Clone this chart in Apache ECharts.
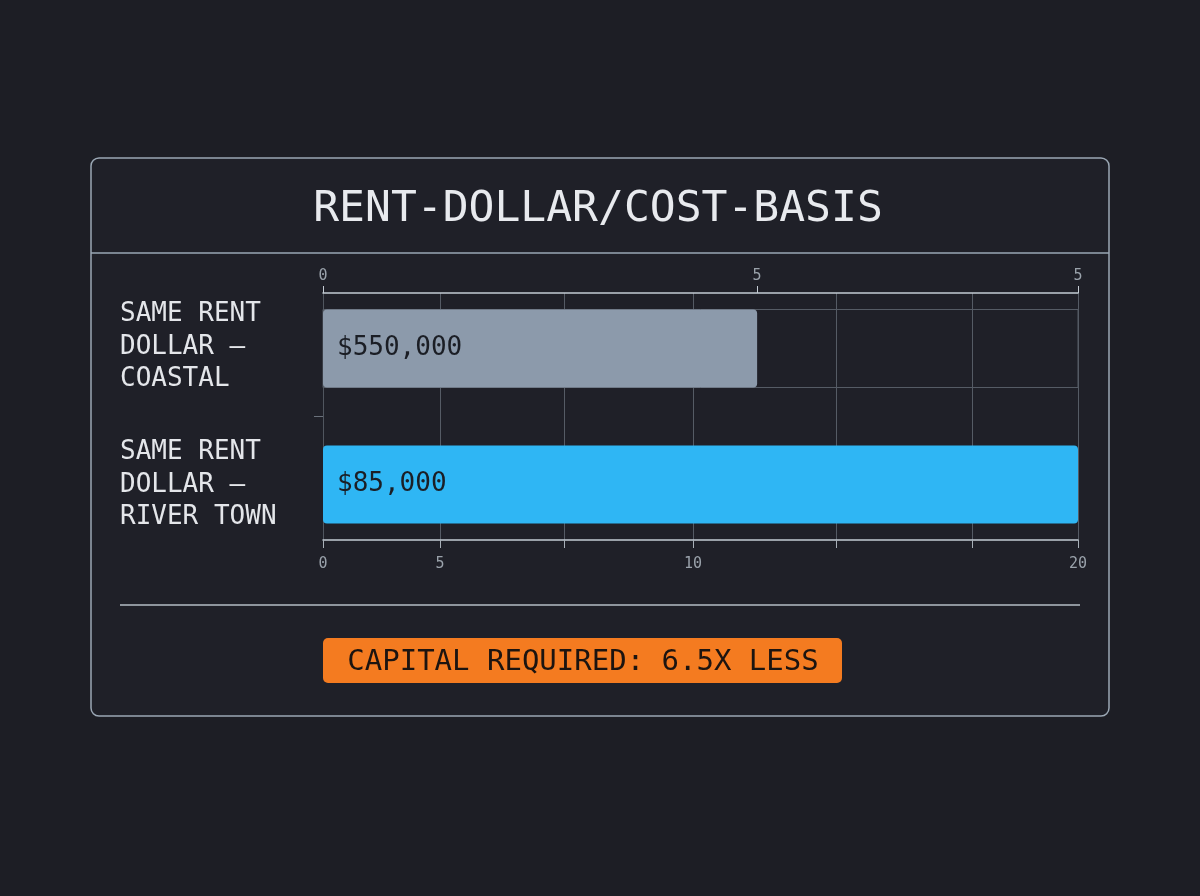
<!DOCTYPE html>
<html>
<head>
<meta charset="utf-8">
<script src="https://cdn.jsdelivr.net/npm/echarts@6/dist/echarts.min.js"></script>
<style>
html,body{margin:0;padding:0;background:#1d1e25;}
#chart{width:1200px;height:896px;}
</style>
</head>
<body>
<div id="chart"></div>
<script>
const titleText = 'RENT-DOLLAR/COST-BASIS';
const categories = ['SAME RENT\nDOLLAR —\nCOASTAL', 'SAME RENT\nDOLLAR —\nRIVER TOWN'];
const costBasis = [550000, 85000];
const barLength = [11.5, 20];
const bottomTickValues = [0, 3.1, 6.4, 9.8, 13.6, 17.2, 20];
const bottomLabelValues = [0, 3.1, 9.8, 20];
const bottomLabelTexts = ['0', '5', '10', '20'];
const topLabelValues = [0, 11.5, 20];
const topLabelTexts = ['0', '5', '5'];
const badgeText = 'CAPITAL REQUIRED: 6.5X LESS';

const MONO = '"DejaVu Sans Mono", "Liberation Mono", monospace';
const fmtMoney = v => '$' + v.toLocaleString('en-US');
const pick = (vals, texts) => v => {
  for (let i = 0; i < vals.length; i++) if (Math.abs(vals[i] - v) < 1e-6) return texts[i];
  return '';
};
const richLines = v => v.split('\n').map(s => '{a|' + s + '}').join('\n');

const chart = echarts.init(document.getElementById('chart'), null, {renderer: 'canvas'});

const seriesColors = ['#8c9aab', '#2fb6f4'];

const option = {
  backgroundColor: '#1d1e25',
  animation: false,
  grid: {left: 323, right: 122, top: 293, bottom: 356, containLabel: false, outerBoundsMode: 'none'},
  xAxis: [
    {
      type: 'value', position: 'bottom', min: 0, max: 20,
      axisLine: {show: true, onZero: false, lineStyle: {color: '#c4ccd4', width: 1.5}},
      axisTick: {show: true, customValues: bottomTickValues, length: 8, lineStyle: {color: '#a8b0b8', width: 1}},
      axisLabel: {customValues: bottomLabelValues, formatter: pick(bottomLabelValues, bottomLabelTexts),
        color: '#9aa2ab', fontSize: 15, fontFamily: MONO, margin: 17},
      splitLine: {show: true, lineStyle: {color: '#555b65', width: 1}}
    },
    {
      type: 'value', position: 'top', min: 0, max: 20,
      axisLine: {show: true, onZero: false, lineStyle: {color: '#c4ccd4', width: 1.5}},
      axisTick: {show: true, customValues: topLabelValues, length: 7, lineStyle: {color: '#c4ccd4', width: 1}},
      axisLabel: {customValues: topLabelValues, formatter: pick(topLabelValues, topLabelTexts),
        color: '#9aa2ab', fontSize: 15, fontFamily: MONO, margin: 9},
      splitLine: {show: false}
    }
  ],
  yAxis: [
    {
      type: 'category', inverse: true,
      data: categories,
      axisLine: {show: true, onZero: false, lineStyle: {color: '#50565f', width: 1}},
      axisTick: {show: false},
      axisLabel: {
        interval: 0, align: 'left', margin: 203, color: '#e4e6ea', fontFamily: MONO,
        formatter: (v, i) => i === 0 ? richLines(v) + '\n{s| }' : '{t| }\n' + richLines(v),
        rich: {
          a: {fontSize: 26, lineHeight: 32.5, fontFamily: MONO, color: '#e4e6ea', align: 'left'},
          s: {fontSize: 1, lineHeight: 16},
          t: {fontSize: 1, lineHeight: 13}
        }
      },
      splitLine: {show: false}
    },
    {
      type: 'value', position: 'left', min: 0, max: 2, inverse: true,
      axisLine: {show: false, onZero: false},
      axisTick: {show: true, customValues: [1], length: 9, lineStyle: {color: '#6a717b'}},
      axisLabel: {show: false},
      splitLine: {show: false}
    }
  ],
  series: [
    {
      name: 'Coastal', type: 'bar', xAxisIndex: 0, yAxisIndex: 0,
      data: [barLength[0]],
      barWidth: 78, barGap: '-84%',
      showBackground: true,
      backgroundStyle: {color: 'rgba(0,0,0,0)', borderColor: '#555b65', borderWidth: 1},
      itemStyle: {color: seriesColors[0], borderRadius: 4},
      label: {show: true, position: 'insideLeft', distance: 14, formatter: () => fmtMoney(costBasis[0]),
        color: '#1b1e25', fontSize: 26, fontFamily: MONO}
    },
    {
      name: 'River Town', type: 'bar', xAxisIndex: 0, yAxisIndex: 0,
      data: ['-', barLength[1]],
      barWidth: 78, barGap: '-84%',
      itemStyle: {color: seriesColors[1], borderRadius: 4},
      label: {show: true, position: 'insideLeft', distance: 14, formatter: () => fmtMoney(costBasis[1]),
        color: '#1b1e25', fontSize: 26, fontFamily: MONO}
    }
  ],
  graphic: [
    {type: 'rect', z: -1, shape: {x: 91, y: 158, width: 1018, height: 558, r: 8},
      style: {fill: '#1f2028', stroke: '#9aa7b4', lineWidth: 1.5}},
    {type: 'line', shape: {x1: 91, y1: 253, x2: 1109, y2: 253}, style: {stroke: '#9aa7b4', lineWidth: 1.5}},
    {type: 'text', x: 598, y: 210, style: {text: titleText, fill: '#e8eaee', font: '43px ' + MONO,
      textAlign: 'center', textVerticalAlign: 'middle'}},
    {type: 'line', shape: {x1: 120, y1: 605, x2: 1080, y2: 605}, style: {stroke: '#b4bcc4', lineWidth: 1.5}},
    {type: 'rect', shape: {x: 323, y: 638, width: 519, height: 45, r: 5}, style: {fill: '#f47b20'}},
    {type: 'text', x: 583, y: 662, style: {text: badgeText, fill: '#1c1410', font: '29px ' + MONO,
      textAlign: 'center', textVerticalAlign: 'middle'}}
  ]
};
chart.setOption(option);
</script>
</body>
</html>
